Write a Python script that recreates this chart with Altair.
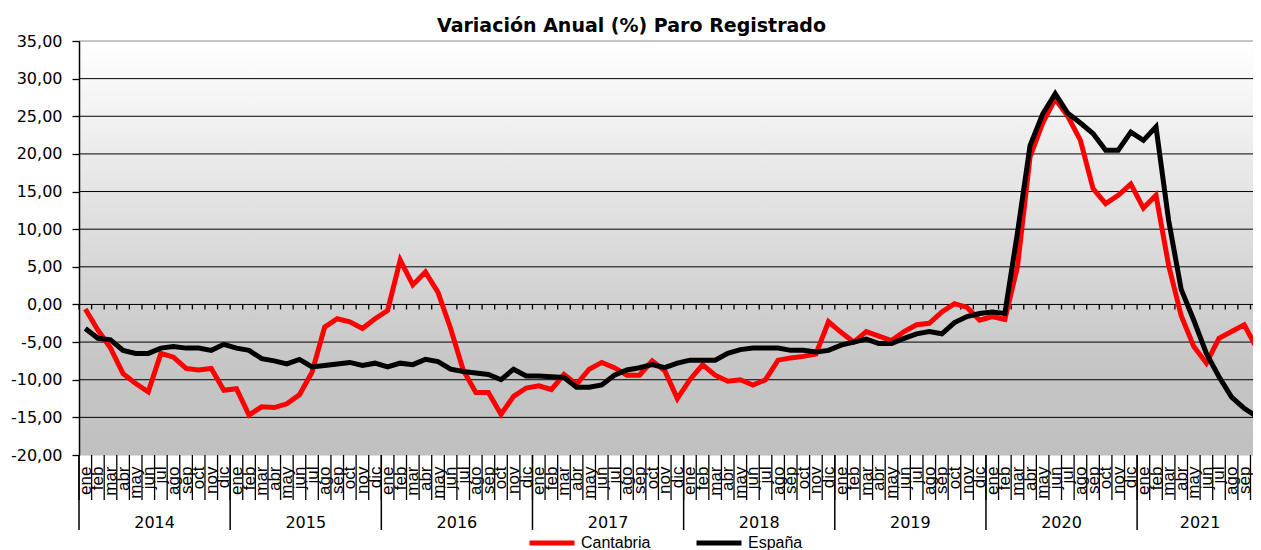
import altair as alt
import pandas as pd

# ---------------- data ----------------
MONTHS = ["ene", "feb", "mar", "abr", "may", "jun", "jul", "ago", "sep", "oct", "nov", "dic"]
YEARS = ["2014", "2015", "2016", "2017", "2018", "2019", "2020", "2021"]
MONTHS_PER_YEAR = [12, 12, 12, 12, 12, 12, 12, 10]   # 2021: ene..oct (oct cut by the image edge)
LABELED_MONTHS = 93                                   # ene 2014 .. sep 2021 have visible labels

SERIES = ["Cantabria", "España"]
COLORS = ["#ff0000", "#000000"]

CANTABRIA = [
    -0.6, -3.4, -5.8, -9.2, -10.5, -11.6, -6.5, -7.0, -8.5, -8.7, -8.5, -11.4,     # 2014
    -11.2, -14.7, -13.6, -13.7, -13.2, -12.0, -9.0, -3.0, -1.9, -2.3, -3.2, -1.9,  # 2015
    -0.8, 5.9, 2.6, 4.3, 1.6, -3.2, -8.7, -11.7, -11.7, -14.6, -12.2, -11.1,       # 2016
    -10.8, -11.3, -9.3, -10.6, -8.6, -7.7, -8.4, -9.4, -9.4, -7.5, -8.8, -12.5,    # 2017
    -10.0, -8.0, -9.4, -10.2, -10.0, -10.7, -10.0, -7.4, -7.1, -6.9, -6.6, -2.3,   # 2018
    -3.7, -5.0, -3.6, -4.2, -4.8, -3.6, -2.7, -2.5, -1.0, 0.1, -0.4, -2.1,         # 2019
    -1.6, -2.0, 5.0, 19.6, 24.1, 27.3, 25.0, 21.8, 15.4, 13.4, 14.5, 16.0,         # 2020
    12.8, 14.5, 5.2, -1.5, -5.6, -7.8, -4.5, -3.6, -2.7, -5.8,                     # 2021
]
ESPANA = [
    -3.2, -4.5, -4.7, -6.1, -6.5, -6.5, -5.8, -5.6, -5.8, -5.8, -6.1, -5.3,        # 2014
    -5.8, -6.1, -7.2, -7.5, -7.9, -7.3, -8.3, -8.1, -7.9, -7.7, -8.1, -7.8,        # 2015
    -8.3, -7.8, -8.0, -7.3, -7.6, -8.6, -8.9, -9.1, -9.3, -10.0, -8.6, -9.5,       # 2016
    -9.5, -9.6, -9.7, -11.0, -11.0, -10.7, -9.4, -8.7, -8.4, -8.0, -8.4, -7.8,     # 2017
    -7.4, -7.4, -7.4, -6.5, -6.0, -5.8, -5.8, -5.8, -6.1, -6.1, -6.3, -6.1,        # 2018
    -5.4, -5.0, -4.6, -5.2, -5.2, -4.5, -3.9, -3.6, -3.9, -2.4, -1.6, -1.2,        # 2019
    -1.0, -1.2, 9.5, 21.1, 25.3, 28.0, 25.4, 24.1, 22.7, 20.5, 20.5, 22.9,         # 2020
    21.8, 23.6, 11.2, 2.0, -2.1, -6.5, -9.6, -12.3, -13.8, -14.9,                  # 2021
]
Y_TICKS = [-20, -15, -10, -5, 0, 5, 10, 15, 20, 25, 30, 35]
TITLE = "Variación Anual (%) Paro Registrado"

# ---------------- layout ----------------
W, H = 1174, 414
VISIBLE_MONTHS = 93.2                  # the plot is cut just past the sep 2021 label

rows = []
for name, vals in zip(SERIES, [CANTABRIA, ESPANA]):
    for i, v in enumerate(vals):
        rows.append({"t": i + 0.5, "valor": v, "serie": name})
lines_df = pd.DataFrame(rows)

bounds_df = pd.DataFrame({"b": list(range(LABELED_MONTHS + 1))})
starts = []
acc = 0
for c in MONTHS_PER_YEAR:
    starts.append(acc)
    acc += c
years_df = pd.DataFrame({
    "year": YEARS,
    "yb": starts,
    "yc": [s + c / 2 for s, c in zip(starts, MONTHS_PER_YEAR)],
})
grid_df = pd.DataFrame({"v": Y_TICKS[1:]})

x_scale = alt.Scale(domain=[0, VISIBLE_MONTHS], nice=False, zero=False)
y_scale = alt.Scale(domain=[Y_TICKS[0], Y_TICKS[-1]], nice=False, zero=False)

month_expr = "[" + ",".join("'" + m + "'" for m in MONTHS) + "][floor(datum.value) % 12]"

gradient = alt.LinearGradient(
    gradient="linear",
    stops=[
        alt.GradientStop(color="#ffffff", offset=0),
        alt.GradientStop(color="#c6c6c6", offset=0.78),
        alt.GradientStop(color="#c0c0c0", offset=1),
    ],
    x1=0, x2=0, y1=0, y2=1,
)

bg = alt.Chart(pd.DataFrame({"k": [0]})).mark_rect(color=gradient).encode(
    x=alt.value(0), x2=alt.value(W), y=alt.value(0), y2=alt.value(H)
)

# horizontal grid lines (none at the bottom edge) -- this layer carries the y axis
grid = alt.Chart(grid_df).mark_rule(strokeWidth=1).encode(
    y=alt.Y(
        "v:Q", scale=y_scale,
        axis=alt.Axis(
            orient="left", values=Y_TICKS, format=".2f", tickSize=7, tickWidth=1.3,
            tickColor="black", domain=True, domainColor="black", domainWidth=1.5,
            labelPadding=10, labelFont="DejaVu Sans", labelFontSize=16, labelColor="black",
            grid=False, title=None, labelOverlap=False, zindex=1,
        ),
    ),
    x=alt.value(0),
    x2=alt.value(W),
    stroke=alt.condition(f"datum.v == {Y_TICKS[-1]}", alt.value("#8c8c8c"), alt.value("#000000")),
)

# small tick marks hanging from the zero line at every month boundary
zero_ticks = alt.Chart(bounds_df).mark_rule(strokeWidth=1.3, color="black", y2Offset=5).encode(
    x=alt.X("b:Q", scale=x_scale, axis=None),
    y=alt.Y(datum=0, scale=y_scale, axis=None),
    y2=alt.Y2(datum=0),
)

# month separators under the plot
month_divs = alt.Chart(bounds_df).mark_rule(strokeWidth=1.3, color="black").encode(
    x=alt.X("b:Q", scale=x_scale, axis=None),
    y=alt.value(H),
    y2=alt.value(H + 45),
)

year_divs = alt.Chart(years_df).mark_rule(strokeWidth=1.5, color="black").encode(
    x=alt.X("yb:Q", scale=x_scale, axis=None),
    y=alt.value(H),
    y2=alt.value(H + 75),
)

year_labels = alt.Chart(years_df).mark_text(
    font="DejaVu Sans", fontSize=16, baseline="alphabetic", align="center", color="black"
).encode(
    x=alt.X("yc:Q", scale=x_scale, axis=None),
    y=alt.value(H + 73),
    text="year:N",
)

lines = alt.Chart(lines_df).mark_line(strokeWidth=5, clip=True).encode(
    x=alt.X(
        "t:Q", scale=x_scale,
        axis=alt.Axis(
            orient="bottom", values=[i + 0.5 for i in range(LABELED_MONTHS)], labelExpr=month_expr,
            labelAngle=270, labelAlign="right", labelBaseline="middle", labelPadding=11,
            labelFont="Liberation Sans", labelFontSize=17, labelColor="black",
            labelOverlap=False, labelBound=False, labelFlush=False,
            ticks=False, tickSize=0, domain=False, grid=False, title=None,
        ),
    ),
    y=alt.Y("valor:Q", scale=y_scale, axis=None),
    color=alt.Color(
        "serie:N", scale=alt.Scale(domain=SERIES, range=COLORS),
        legend=alt.Legend(
            orient="none", legendX=448, legendY=477, direction="horizontal", title=None,
            symbolType="stroke", symbolSize=2025, symbolStrokeWidth=5,
            labelFont="Liberation Sans", labelFontSize=16, labelColor="black",
            columnPadding=35, padding=0, labelOffset=4,
        ),
    ),
)

chart = alt.layer(bg, grid, zero_ticks, month_divs, year_divs, year_labels, lines).resolve_axis(
    x="independent", y="independent"
).properties(
    width=W,
    height=H,
    title=alt.TitleParams(
        text=TITLE, font="DejaVu Sans", fontSize=19, fontWeight="bold", color="black",
        anchor="middle", dx=-34.5, dy=7, offset=4,
    ),
    autosize=alt.AutoSizeParams(type="none"),
    padding={"left": 71, "top": 33, "right": 0, "bottom": 95},
).configure_view(stroke=None).configure(
    background="white",
    locale={"number": {"decimal": ",", "thousands": ".", "grouping": [3],
                       "currency": ["", " €"], "minus": "-"}},
)

chart.save("out.html", embed_options={"renderer": "svg", "actions": False})
